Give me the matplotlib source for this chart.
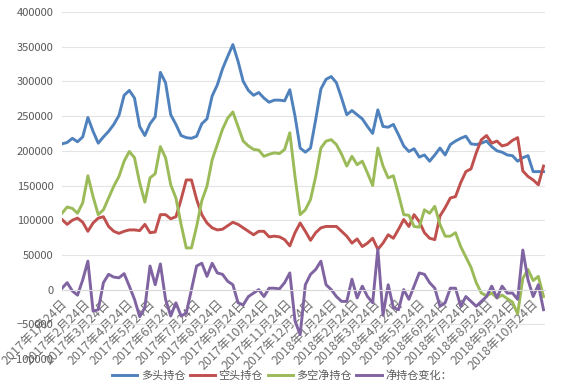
import matplotlib.pyplot as plt
import numpy as np
import pandas as pd

plt.rcParams['font.family'] = ['Noto Sans CJK SC', 'DejaVu Sans']

dates = pd.date_range('2017-01-20', periods=94, freq='7D')

long_pos = np.array([
    210, 212, 218, 213, 220, 248, 228, 211, 220, 228, 238, 251, 280, 287, 276, 235, 222, 239, 249, 313, 298, 252, 238, 222,
    219, 218, 221, 239, 246, 279, 295, 318, 336, 353, 329, 300, 287, 280, 284, 276, 270, 273, 273, 272, 288, 250, 204, 198,
    204, 245, 289, 303, 307, 298, 276, 252, 258, 252, 246, 235, 225, 259, 235, 234, 238, 223, 207, 199, 203, 191, 194,
    185, 194, 204, 194, 209, 214, 218, 221, 210, 209, 211, 214, 206, 200, 198, 194, 193, 185, 190, 193, 170, 170, 170,
]) * 1000

short_pos = np.array([
    101, 94, 100, 103, 97, 84, 96, 103, 105, 91, 84, 81, 84, 86, 86, 85, 94, 82, 83, 108, 108, 102, 105, 130,
    158, 158, 130, 108, 96, 89, 86, 87, 92, 97, 94, 89, 84, 79, 84, 84, 76, 77, 76, 72, 63, 82, 96, 84,
    71, 82, 89, 91, 91, 91, 84, 77, 67, 73, 62, 67, 74, 58, 67, 79, 74, 87, 101, 91, 108, 98, 82,
    74, 72, 106, 118, 132, 134, 154, 170, 174, 197, 216, 222, 211, 214, 207, 209, 215, 219, 171, 163, 158, 151, 178,
]) * 1000

net_pos = np.array([
    110, 119, 117, 110, 125, 164, 134, 108, 115, 132, 149, 163, 185, 199, 190, 154, 126, 161, 167, 206, 190, 151, 132, 94,
    60, 60, 91, 128, 149, 187, 209, 231, 247, 256, 235, 214, 207, 202, 201, 192, 195, 197, 196, 202, 226, 163, 108, 115,
    130, 163, 204, 214, 216, 209, 195, 178, 192, 180, 185, 168, 150, 204, 178, 161, 164, 137, 108, 107, 91, 90, 115,
    110, 120, 94, 77, 77, 82, 62, 47, 32, 10, -5, -9, -5, -12, -8, -13, -18, -35, 16, 29, 13, 19, -10,
]) * 1000

net_change = np.array([
    2, 10, -2, -8, 14, 41, -31, -29, 10, 22, 18, 17, 23, 5, -14, -39, -26, 34, 7, 37, -14, -38, -19, -38,
    -34, 0, 34, 38, 19, 38, 24, 22, 12, 7, -19, -22, -10, -5, 0, -10, 2, 2, 1, 10, 24, -45, -65, 7,
    22, 29, 41, 7, 0, -10, -17, -17, 15, -12, 5, -10, -19, 58, -37, 7, -26, -29, 0, -14, 5, 24, 22,
    10, 2, -24, -19, 2, 2, -24, -10, -17, -24, -17, -10, 5, -12, 5, -5, -5, -14, 57, 14, -10, 7, -29,
]) * 1000

series_names = ['多头持仓', '空头持仓', '多空净持仓', '净持仓变化：']
colors = ['#4F81BD', '#C0504D', '#9BBB59', '#8064A2']

tick_dates = pd.date_range('2017-01-24', '2018-10-24', freq=pd.DateOffset(months=1))
tick_labels = [f'{d.year}年{d.month}月{d.day}日' for d in tick_dates]

fig = plt.figure(figsize=(5.64, 3.87), dpi=100)
ax = fig.add_axes([62 / 564, 28 / 387, 483 / 564, 347 / 387])

for vals, name, c in zip([long_pos, short_pos, net_pos, net_change], series_names, colors):
    ax.plot(dates, vals, color=c, lw=2.1, label=name, solid_joinstyle='round')

ax.set_ylim(-100000, 400000)
ax.set_yticks(np.arange(-100000, 400001, 50000))
ax.set_xlim(dates[0], dates[-1] + pd.Timedelta(days=2))
ax.grid(axis='y', color='#e3e3e3', lw=0.8)
ax.set_axisbelow(True)

for s in ['top', 'right', 'left']:
    ax.spines[s].set_visible(False)
ax.spines['bottom'].set_position(('data', 0))
ax.spines['bottom'].set_color('#d9d9d9')

ax.set_xticks(tick_dates)
ax.set_xticklabels(tick_labels, rotation=45, ha='right', va='center',
                   rotation_mode='anchor')
ax.tick_params(axis='x', length=0, pad=9, labelsize=9, labelcolor='#707070')
ax.tick_params(axis='y', length=0, pad=6, labelsize=8, labelcolor='#595959')

fig.legend(loc='center', bbox_to_anchor=(0.5, 11 / 387), ncol=4, frameon=False,
           fontsize=8, handlelength=2.3, handletextpad=0.3, columnspacing=0.4,
           labelcolor='#595959')

fig.savefig('out.png', dpi=100)
